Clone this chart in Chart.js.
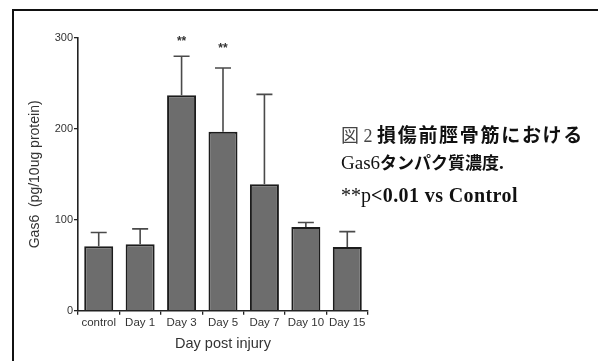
<!DOCTYPE html>
<html>
<head>
<meta charset="utf-8">
<script src="https://cdn.jsdelivr.net/npm/chart.js@4.4.1/dist/chart.umd.min.js"></script>
<style>
  html, body { margin: 0; padding: 0; background: #fff; }
  #wrap { position: relative; width: 598px; height: 361px; overflow: hidden; }
  #frame { position: absolute; left: 12px; top: 9px; width: 600px; height: 400px;
           border-left: 2px solid #111; border-top: 2px solid #111; }
  #box { position: absolute; left: 0; top: 0; width: 598px; height: 361px; }
  .cap { position: absolute; left: 341px; white-space: nowrap; color: #111; line-height: 1; }
  .cjk { font-family: "Noto Sans CJK JP", sans-serif; }
  .ser { font-family: "Liberation Serif", serif; }
  .b { font-weight: 700; }
</style>
</head>
<body>
<div id="wrap">
  <div id="frame"></div>
  <div id="box"><canvas id="c"></canvas></div>
  <div class="cap" style="top:124px;font-size:18px;">
    <span class="cjk" style="color:#444;">図</span><span class="ser" style="font-size:18px;color:#444;"> 2 </span><span class="cjk b" style="font-size:19px;letter-spacing:1.7px;">損傷前脛骨筋における</span>
  </div>
  <div class="cap" style="top:153px;font-size:17px;">
    <span class="ser" style="font-size:19px;">Gas6</span><span class="cjk b" style="font-size:17px;letter-spacing:0px;">タンパク質濃度</span><span class="ser b" style="font-size:19px;">.</span>
  </div>
  <div class="cap ser" style="top:185px;font-size:20px;">
    <span>**p</span><span class="b" style="letter-spacing:0.4px;">&lt;0.01 vs Control</span>
  </div>
</div>
<script>
// Gas6 protein level by time after injury (mean with upper SD whisker)
const categories = ["control", "Day 1", "Day 3", "Day 5", "Day 7", "Day 10", "Day 15"];
const meanValues = [71, 73, 237, 197, 139, 92, 70];
const upperError = [86, 90, 280, 267, 238, 97, 87];
const significance = ["", "", "**", "**", "", "", ""];
const yTicks = [0, 100, 200, 300];

const errorBarPlugin = {
  id: "errorBars",
  afterDatasetsDraw(chart) {
    const ctx = chart.ctx;
    const meta = chart.getDatasetMeta(0);
    const y = chart.scales.y;
    ctx.save();
    meta.data.forEach((bar, i) => {
      const x = bar.x;
      const yTop = y.getPixelForValue(upperError[i]);
      const yBar = y.getPixelForValue(meanValues[i]);
      ctx.strokeStyle = "#4a4a4a";
      ctx.lineWidth = 1.6;
      ctx.beginPath();
      ctx.moveTo(x, yBar);
      ctx.lineTo(x, yTop);
      ctx.moveTo(x - 8, yTop);
      ctx.lineTo(x + 8, yTop);
      ctx.stroke();
      if (significance[i]) {
        ctx.fillStyle = "#333";
        ctx.font = "bold 12px 'Liberation Sans', Arial, sans-serif";
        ctx.textAlign = "center";
        ctx.textBaseline = "middle";
        ctx.fillText(significance[i], x, yTop - 14 - (i === 3 ? 5 : 0));
      }
    });
    ctx.restore();
  }
};

const axisFont = "'Liberation Sans', Arial, sans-serif";

new Chart(document.getElementById("c"), {
  type: "bar",
  data: {
    labels: categories,
    datasets: [{
      data: meanValues,
      backgroundColor: "#6d6d6d",
      borderColor: "#1c1c1c",
      borderWidth: 2,
      borderSkipped: "bottom",
      barPercentage: 0.7,
      categoryPercentage: 1.0
    }]
  },
  options: {
    responsive: true,
    maintainAspectRatio: false,
    animation: false,
    layout: { padding: { left: 27, right: 230, top: 38, bottom: 7 } },
    plugins: { legend: { display: false }, tooltip: { enabled: false } },
    scales: {
      x: {
        offset: true,
        afterFit(scale) { scale.height = 43.3; },
        grid: { display: true, drawOnChartArea: false, drawTicks: true, tickLength: 4, color: "#222", lineWidth: 1.3 },
        border: { display: true, color: "#222", width: 1.6 },
        ticks: { color: "#333", font: { family: axisFont, size: 11.5 }, padding: 1, maxRotation: 0, autoSkip: false },
        title: { display: true, text: "Day post injury", color: "#333", font: { family: axisFont, size: 14.5 }, padding: { top: 2, bottom: 1 } }
      },
      y: {
        min: 0, max: 300,
        afterFit(scale) { scale.width = 51; },
        afterBuildTicks(scale) { scale.ticks = yTicks.map(v => ({ value: v })); },
        grid: { display: true, drawOnChartArea: false, drawTicks: true, tickLength: 4, color: "#222", lineWidth: 1.3 },
        border: { display: true, color: "#222", width: 1.6 },
        ticks: { color: "#333", font: { family: axisFont, size: 11 }, padding: 1 },
        title: { display: true, text: "Gas6  (pg/10ug protein)", color: "#333", font: { family: axisFont, size: 14 }, padding: 0 }
      }
    }
  },
  plugins: [errorBarPlugin]
});
</script>
</body>
</html>
